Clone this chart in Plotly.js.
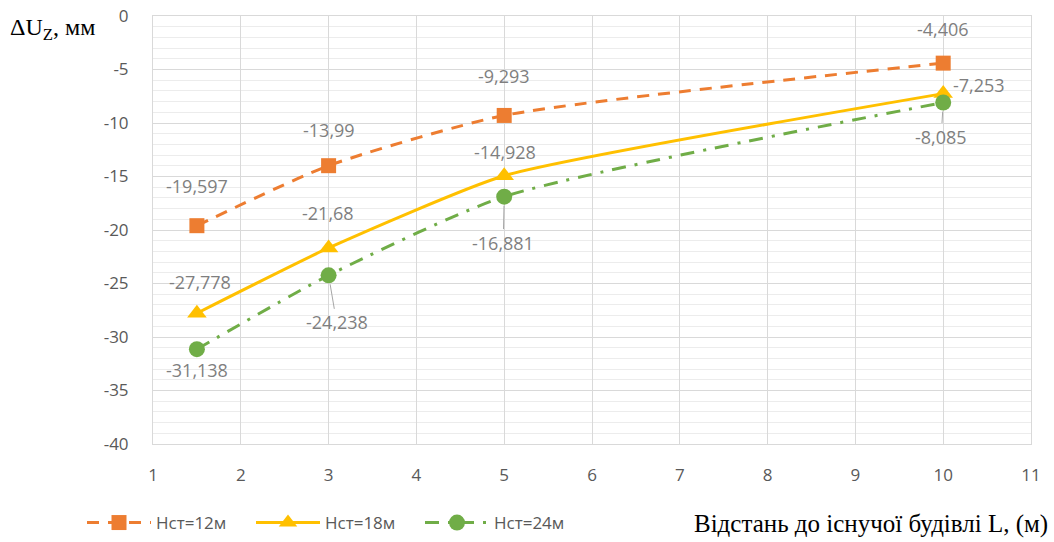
<!DOCTYPE html>
<html>
<head>
<meta charset="utf-8">
<script src="https://cdn.plot.ly/plotly-3.0.1.min.js"></script>
<style>html,body{margin:0;padding:0;background:#fff;}#chart{width:1054px;height:542px;}</style>
</head>
<body>
<div id="chart"></div>
<script>
const xValues = [1.5, 3, 5, 10];
const seriesNames = ["Нст=12м", "Нст=18м", "Нст=24м"];
const h12 = [-19.597, -13.99, -9.293, -4.406];
const h18 = [-27.778, -21.68, -14.928, -7.253];
const h24 = [-31.138, -24.238, -16.881, -8.085];
const xTicks = [1, 2, 3, 4, 5, 6, 7, 8, 9, 10, 11];
const yTicks = [0, -5, -10, -15, -20, -25, -30, -35, -40];

const fmt = v => String(v).replace('.', ',');

const colors = ["#ED7D31", "#FFC000", "#70AD47"];

const traces = [
  {x: xValues, y: h12, name: seriesNames[0], mode: 'lines+markers',
   line: {color: colors[0], width: 3, dash: '12px,9px', shape: 'spline', smoothing: 0.6},
   marker: {symbol: 'square', size: 15, color: colors[0]}},
  {x: xValues, y: h18, name: seriesNames[1], mode: 'lines+markers',
   line: {color: colors[1], width: 3, shape: 'spline', smoothing: 0.5},
   marker: {symbol: 'triangle-up', size: 17, color: colors[1]}},
  {x: xValues, y: h24, name: seriesNames[2], mode: 'lines+markers',
   line: {color: colors[2], width: 3, dash: '14px,9px,3px,9px', shape: 'spline', smoothing: 0.6},
   marker: {symbol: 'circle', size: 16, color: colors[2]}}
];

const lblFont = {family: 'Open Sans, Liberation Sans, sans-serif', size: 18, color: '#7f7f7f'};
const off12 = [[0,-40],[0,-36],[0,-39],[0,-34]];
const off18 = [[3,-31],[-1,-35],[1,-24],[36,-9]];
const off24 = [[0,21],[8,47],[-1,46],[-2,34]];
const lead24 = [false, true, true, true];

const annotations = [];
function addLabels(ys, offs, leads) {
  ys.forEach((v, i) => {
    const a = {x: xValues[i], y: v, xref: 'x', yref: 'y', text: fmt(v), font: lblFont};
    if (leads && leads[i]) {
      Object.assign(a, {showarrow: true, arrowhead: 0, arrowwidth: 1, arrowcolor: '#a6a6a6',
        ax: offs[i][0], ay: offs[i][1], standoff: 9, startstandoff: 0});
    } else {
      Object.assign(a, {showarrow: false, xshift: offs[i][0], yshift: -offs[i][1]});
    }
    annotations.push(a);
  });
}
addLabels(h12, off12);
addLabels(h18, off18);
addLabels(h24, off24, lead24);

// plot area: x 153..1031, y 16..444
const px = p => (p - 153) / 878;
const py = p => (444 - p) / 428;
annotations.push({xref: 'paper', yref: 'paper', x: px(8), y: py(29),
  xanchor: 'left', yanchor: 'middle', showarrow: false, align: 'left',
  text: 'ΔU<sub>Z</sub>, мм', font: {family: 'Liberation Serif, serif', size: 24, color: '#000'}});
annotations.push({xref: 'paper', yref: 'paper', x: px(1050), y: py(524),
  xanchor: 'right', yanchor: 'middle', showarrow: false,
  text: 'Відстань до існучої будівлі L, (м)', font: {family: 'Liberation Serif, serif', size: 25, color: '#000'}});

const layout = {
  width: 1054, height: 542,
  margin: {l: 153, r: 23, t: 16, b: 98},
  paper_bgcolor: '#fff', plot_bgcolor: '#fff',
  showlegend: true,
  legend: {orientation: 'h', xref: 'container', yref: 'container', x: 82/1054, y: 19/542,
    xanchor: 'left', yanchor: 'middle',
    font: {family: 'Open Sans, sans-serif', size: 17, color: '#595959'},
    itemwidth: 64, entrywidth: 90, tracegroupgap: 0},
  xaxis: {range: [1, 11], tickvals: xTicks, ticktext: xTicks.map(String), showgrid: true, gridcolor: '#d9d9d9', gridwidth: 1,
    zeroline: false, showline: true, linecolor: '#d9d9d9', mirror: true, ticks: '', ticklabelstandoff: 16,
    tickfont: {family: 'Open Sans, sans-serif', size: 17, color: '#595959'}},
  yaxis: {range: [-40, 0], tickvals: yTicks, ticktext: yTicks.map(String), showgrid: true, gridcolor: '#d9d9d9', gridwidth: 1,
    zeroline: false, showline: true, linecolor: '#d9d9d9', mirror: true, ticks: '', ticklabelstandoff: 20,
    minor: {dtick: 1, showgrid: true, gridcolor: '#ececec', gridwidth: 1},
    tickfont: {family: 'Open Sans, sans-serif', size: 17, color: '#595959'}},
  annotations: annotations
};

Plotly.newPlot('chart', traces, layout, {displayModeBar: false, staticPlot: true});
</script>
</body>
</html>
